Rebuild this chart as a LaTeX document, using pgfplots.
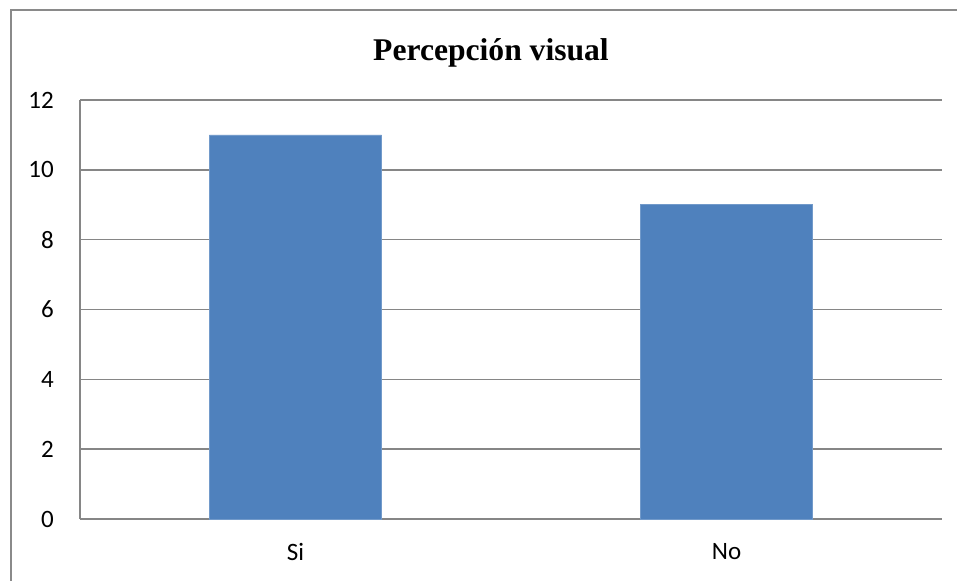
\documentclass[border=0pt]{standalone}
\usepackage{fontspec}
\setmainfont{Carlito}
\newfontfamily\titlefont{Liberation Serif}
\usepackage{pgfplots}
\pgfplotsset{compat=1.18}
\definecolor{barblue}{HTML}{4F81BD}
\definecolor{gridgray}{HTML}{868686}
\definecolor{framegray}{HTML}{8A8A8A}
\newcommand{\tickfont}{\fontsize{25bp}{30bp}\selectfont}
\begin{document}
\begin{tikzpicture}[x=1bp,y=1bp]
  \useasboundingbox (0,0) rectangle (957,581);
  % chart frame, cut by the page on the right and bottom
  \draw[framegray, line width=1.6bp] (11,-10) -- (11,571) -- (970,571);
  \node[anchor=base, inner sep=0pt, font=\titlefont\bfseries\fontsize{31.6bp}{36bp}\selectfont]
    at (491,520) {Percepción visual};
  \begin{axis}[
      at={(80bp,62bp)},
      anchor=south west,
      scale only axis,
      width=862bp,
      height=419bp,
      xmin=-0.5, xmax=1.5,
      ymin=0, ymax=12,
      xtick={0,1},
      xticklabels={\tickfont Si,\tickfont No},
      ytick={0,2,...,12},
      yticklabel={\tickfont\pgfmathprintnumber{\tick}},
      axis lines*=left,
      axis line style={-, draw=gridgray, line width=1.6bp},
      ymajorgrids=true,
      grid style={draw=gridgray, line width=1.6bp},
      major tick length=0pt,
      tick style={draw=none},
      yticklabel style={anchor=east, inner sep=0pt, xshift=-26bp},
      xticklabel style={anchor=north, inner sep=0pt, yshift=-24bp},
      /pgf/number format/assume math mode=true,
      clip=false,
    ]
    \addplot[ybar, bar width=0.4, fill=barblue, draw=barblue!80!white, line width=0.8bp]
      coordinates {
        (0, 11)
        (1, 9)
      };
  \end{axis}
\end{tikzpicture}
\end{document}
